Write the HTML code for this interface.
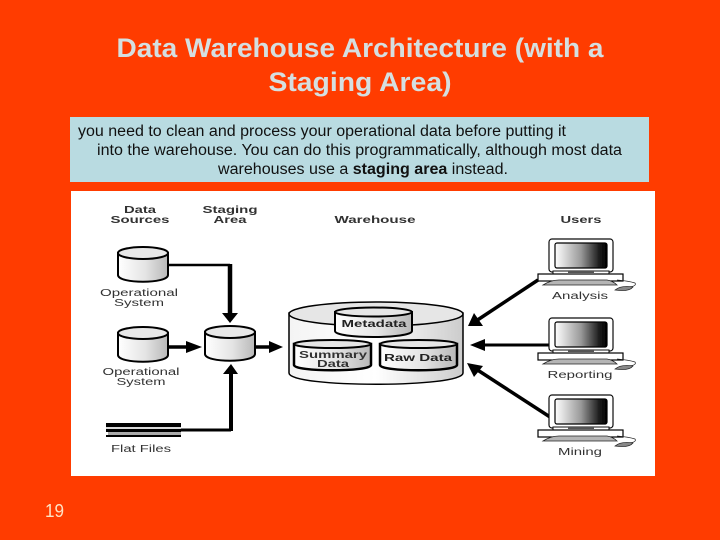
<!DOCTYPE html>
<html>
<head>
<meta charset="utf-8">
<style>
html,body{margin:0;padding:0;background:#ff3c00;}
svg{display:block;}
text{font-family:"Liberation Sans",sans-serif;}
</style>
</head>
<body>
<svg width="720" height="540" viewBox="0 0 720 540" xmlns="http://www.w3.org/2000/svg">
<defs>
<filter id="soft" x="-2%" y="-2%" width="104%" height="104%"><feGaussianBlur stdDeviation="0.35"/></filter>
<linearGradient id="cyl" x1="0" x2="1" y1="0" y2="0">
<stop offset="0" stop-color="#ffffff"/><stop offset="0.55" stop-color="#e4e4e4"/><stop offset="1" stop-color="#b8b8b8"/>
</linearGradient>
<linearGradient id="wh" x1="0" x2="1" y1="0" y2="0">
<stop offset="0" stop-color="#f4f4f4"/><stop offset="0.5" stop-color="#ffffff"/><stop offset="1" stop-color="#cccccc"/>
</linearGradient>
<linearGradient id="scr" x1="0" x2="1" y1="0" y2="0">
<stop offset="0" stop-color="#ffffff"/><stop offset="0.5" stop-color="#999999"/><stop offset="0.85" stop-color="#1c1c1c"/><stop offset="1" stop-color="#000000"/>
</linearGradient>
<g id="cy">
<path d="M0,7 V29 C0,38 50,38 50,29 V7 Z" fill="url(#cyl)" stroke="#000" stroke-width="2"/>
<ellipse cx="25" cy="7" rx="25" ry="6" fill="#e8e8e8" stroke="#000" stroke-width="2"/>
</g>
<g id="pc">
<rect x="0" y="0" width="64" height="33" rx="3" fill="#fff" stroke="#111" stroke-width="1.2"/>
<rect x="6" y="4" width="52" height="25" rx="2" fill="url(#scr)" stroke="#000" stroke-width="1.2"/>
<rect x="4" y="32" width="56" height="3" fill="#fff" stroke="#111" stroke-width="1"/>
<rect x="19" y="32" width="26" height="2" fill="#555"/>
<rect x="-11" y="35" width="85" height="7" fill="#fff" stroke="#000" stroke-width="1.2"/>
<path d="M-6,46 Q2,41 10,41 H58 Q64,42 68,46 Z" fill="#b5b5b5" stroke="#222" stroke-width="0.8"/>
<path d="M68,41 Q80,42 86,44 Q88,47 80,48" fill="none" stroke="#222" stroke-width="0.7"/>
<path d="M66,51 Q72,46 84,48 Q80,53 66,51 Z" fill="#888" stroke="#222" stroke-width="0.7"/>
</g>
</defs>

<rect width="720" height="540" fill="#ff3c00"/>

<text x="360" y="57" text-anchor="middle" font-size="27" font-weight="bold" fill="#d5dfe0" textLength="487" lengthAdjust="spacingAndGlyphs">Data Warehouse Architecture (with a</text>
<text x="360" y="91" text-anchor="middle" font-size="27" font-weight="bold" fill="#d5dfe0" textLength="183" lengthAdjust="spacingAndGlyphs">Staging Area)</text>

<rect x="70" y="117" width="579" height="65" fill="#b9dbe1"/>
<text x="78" y="136" font-size="15.500" fill="#111" textLength="488" lengthAdjust="spacingAndGlyphs">you need to clean and process your operational data before putting it</text>
<text x="97" y="155" font-size="15.500" fill="#111" textLength="525" lengthAdjust="spacingAndGlyphs">into the warehouse. You can do this programmatically, although most data</text>
<text x="218" y="174" font-size="15.500" fill="#111" textLength="290" lengthAdjust="spacingAndGlyphs">warehouses use a <tspan font-weight="bold">staging area</tspan> instead.</text>

<rect x="71" y="191" width="584" height="285" fill="#ffffff"/>

<g filter="url(#soft)">
<g font-size="10" fill="#333" text-anchor="middle">
<text x="140" y="213" textLength="32" lengthAdjust="spacingAndGlyphs" font-weight="bold">Data</text>
<text x="140" y="223" textLength="59" lengthAdjust="spacingAndGlyphs" font-weight="bold">Sources</text>
<text x="230" y="213" textLength="55" lengthAdjust="spacingAndGlyphs" font-weight="bold">Staging</text>
<text x="230" y="223" textLength="33" lengthAdjust="spacingAndGlyphs" font-weight="bold">Area</text>
<text x="375" y="223" textLength="81" lengthAdjust="spacingAndGlyphs" font-weight="bold">Warehouse</text>
<text x="581" y="223" textLength="41" lengthAdjust="spacingAndGlyphs" font-weight="bold">Users</text>
<text x="139" y="296" textLength="78" lengthAdjust="spacingAndGlyphs">Operational</text>
<text x="139" y="306" textLength="50" lengthAdjust="spacingAndGlyphs">System</text>
<text x="141" y="375" textLength="77" lengthAdjust="spacingAndGlyphs">Operational</text>
<text x="141" y="385" textLength="49" lengthAdjust="spacingAndGlyphs">System</text>
<text x="141" y="452" textLength="60" lengthAdjust="spacingAndGlyphs">Flat Files</text>
<text x="580" y="299" textLength="56" lengthAdjust="spacingAndGlyphs">Analysis</text>
<text x="580" y="378" textLength="65" lengthAdjust="spacingAndGlyphs">Reporting</text>
<text x="580" y="455" textLength="44" lengthAdjust="spacingAndGlyphs">Mining</text>
</g>

<use href="#cy" x="118" y="246"/>
<use href="#cy" x="118" y="326"/>
<use href="#cy" x="205" y="325"/>

<rect x="106" y="423" width="75" height="4" fill="#000"/>
<rect x="106" y="427" width="75" height="2" fill="#d8d8d8"/>
<rect x="106" y="429" width="75" height="3" fill="#000"/>
<rect x="108" y="432" width="73" height="3" fill="#aaa"/>
<rect x="106" y="435" width="75" height="2" fill="#000"/>

<g fill="none" stroke="#000">
<path d="M168,265 H230" stroke-width="2.500"/>
<path d="M230,264 V315" stroke-width="4.500"/>
<path d="M169,347 H188" stroke-width="3.500"/>
<path d="M255,347 H272" stroke-width="3.500"/>
<path d="M181,430 H231" stroke-width="3"/>
<path d="M231,431 V372" stroke-width="4"/>
<path d="M538,280 L476,321" stroke-width="3.500"/>
<path d="M550,345 L482,345" stroke-width="3"/>
<path d="M550,417 L476,369" stroke-width="3.500"/>
</g>
<g fill="#000">
<polygon points="222,313 238,313 230,323"/>
<polygon points="186,341 202,347 186,353"/>
<polygon points="269,341 283,347 269,353"/>
<polygon points="223,374 238,374 231,364"/>
<polygon points="468,326 474,313 483,326"/>
<polygon points="470,345 485,339 485,351"/>
<polygon points="467,363 483,366 474,377"/>
</g>

<path d="M289,313 V373 C289,388 463,388 463,373 V313 Z" fill="url(#wh)" stroke="#000" stroke-width="1.500"/>
<ellipse cx="376" cy="314" rx="87" ry="12" fill="#e6e6e6" stroke="#000" stroke-width="1.500"/>

<path d="M335,312 V331 C335,339 412,339 412,331 V312 Z" fill="url(#cyl)" stroke="#000" stroke-width="2"/>
<ellipse cx="373.500" cy="312" rx="38.500" ry="4.500" fill="#e6e6e6" stroke="#000" stroke-width="2"/>
<text x="374" y="327" text-anchor="middle" font-size="10.500" font-weight="bold" fill="#222" textLength="65" lengthAdjust="spacingAndGlyphs">Metadata</text>

<path d="M294,344 V365 C294,372 371,372 371,365 V344 Z" fill="url(#cyl)" stroke="#000" stroke-width="2.500"/>
<ellipse cx="332.500" cy="344" rx="38.500" ry="4" fill="#e6e6e6" stroke="#000" stroke-width="2"/>
<text x="333" y="358" text-anchor="middle" font-size="10.500" font-weight="bold" fill="#333" textLength="68" lengthAdjust="spacingAndGlyphs">Summary</text>
<text x="333" y="367" text-anchor="middle" font-size="10.500" font-weight="bold" fill="#333" textLength="32" lengthAdjust="spacingAndGlyphs">Data</text>

<path d="M380,344 V365 C380,372 457,372 457,365 V344 Z" fill="url(#cyl)" stroke="#000" stroke-width="2.500"/>
<ellipse cx="418.500" cy="344" rx="38.500" ry="4" fill="#e6e6e6" stroke="#000" stroke-width="2"/>
<text x="418" y="361" text-anchor="middle" font-size="10.500" font-weight="bold" fill="#222" textLength="68" lengthAdjust="spacingAndGlyphs">Raw Data</text>

<use href="#pc" x="549" y="239"/>
<use href="#pc" x="549" y="318"/>
<use href="#pc" x="549" y="395"/>
</g>

<text x="45" y="517" font-size="18" fill="#ffe3c4" textLength="19" lengthAdjust="spacingAndGlyphs">19</text>
</svg>
</body>
</html>
